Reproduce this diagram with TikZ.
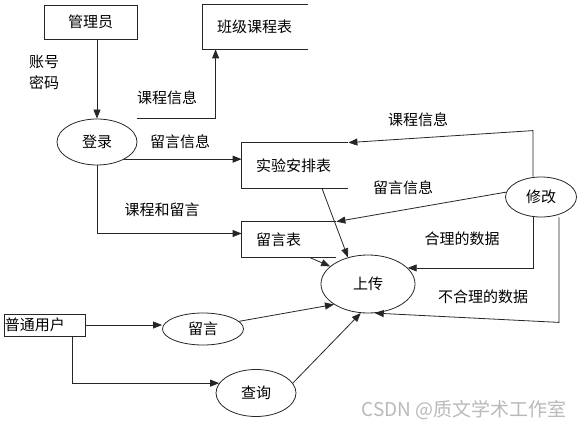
\documentclass[tikz,border=0pt]{standalone}
\usepackage{fontspec}
\setmainfont{Noto Sans CJK SC}
\usetikzlibrary{arrows.meta,shapes.geometric}

\begin{document}
\begin{tikzpicture}[x=1pt,y=-1pt,line width=0.8pt,
  every node/.style={font=\fontsize{15}{21}\selectfont},
  entity/.style={draw=black!85,inner sep=1pt},
  store/.style={inner xsep=14pt,inner ysep=0pt,align=left,minimum height=#1},
  proc/.style={ellipse,draw=black!85,inner sep=0pt},
  edge/.style={draw=black!85},
  arr/.style={draw=black!85,-{Triangle[length=9pt,width=7pt]}}]
  \useasboundingbox (0,0) rectangle (583,430);

  % Entities
  \node[entity,minimum width=93pt,minimum height=34pt] (gly) at (90.5,22) {管理员};
  \node[entity,text width=79pt,align=left,minimum height=22pt] (pt) at (44.5,325) {普通用户};

  % Processes
  \node[proc,minimum width=80pt,minimum height=46pt] (dl) at (97,142) {登录};
  \node[proc,minimum width=71pt,minimum height=40pt] (xg) at (541,197) {修改};
  \node[proc,minimum width=94pt,minimum height=58pt] (sc) at (368,284) {上传\hspace{18pt}};
  \node[proc,minimum width=81pt,minimum height=32pt] (lyan) at (203,329) {留言};
  \node[proc,minimum width=80pt,minimum height=47pt] (cx) at (256,393) {查询};

  % Data stores (open on the right)
  \node[store=44pt,text width=77pt] (bj) at (255.5,27) {班级课程表};
  \node[store=45pt,text width=78pt] (sy) at (295,165.5) {实验安排表};
  \node[store=35pt,text width=66pt] (lyb) at (289,239.5) {留言表};
  \foreach \s in {bj,sy,lyb}
    \draw[edge] (\s.north east) -- (\s.north west) -- (\s.south west) -- (\s.south east);

  % Flows
  \draw[arr] (gly.south -| dl.north) -- (dl.north);
  \draw[arr] (dl.east |- dl.north) -| ([xshift=13pt]bj.south west);
  \draw[arr] (dl.-32) -- (dl.-32 -| sy.west);
  \draw[arr] (dl.south) |- ([yshift=6pt]lyb.west);
  \draw[arr] ([xshift=-8pt]xg.north) -- ++(0,-46) -- (sy.north east);
  \draw[arr] (xg.172) -- (lyb.north east);
  \draw[arr] ([xshift=-8pt]xg.south) |- (sc.22);
  \draw[arr] ([xshift=18pt]xg.south) -- ++(0,105) -- (sc.-77);
  \draw[arr] ([xshift=27pt]sy.south) -- (sc.127);
  \draw[arr] ([xshift=-27pt]lyb.south east) -- (sc.155);
  \draw[arr] (lyan.12) -- (sc.211);
  \draw[arr] (cx.15) -- (sc.-104);
  \draw[arr] (pt.east) -- (pt.east -| lyan.west);
  \draw[arr] ([xshift=27.5pt]pt.south) |- (cx.165);

  % Labels
  \node[align=left] (zhmm) at (44,72.5) {账号\\密码};
  \node (kcxx1) at (167,98) {课程信息};
  \node (lyxx1) at (180,142) {留言信息};
  \node (kchly) at (162,210) {课程和留言};
  \node (kcxx2) at (418,120) {课程信息};
  \node (lyxx2) at (403,188) {留言信息};
  \node (hlsj) at (462,239) {合理的数据};
  \node (bhlsj) at (483,297) {不合理的数据};
  \node[text=gray!55,font=\fontsize{19}{22}\selectfont] (wm) at (464,410) {CSDN @质文学术工作室};
\end{tikzpicture}
\end{document}
